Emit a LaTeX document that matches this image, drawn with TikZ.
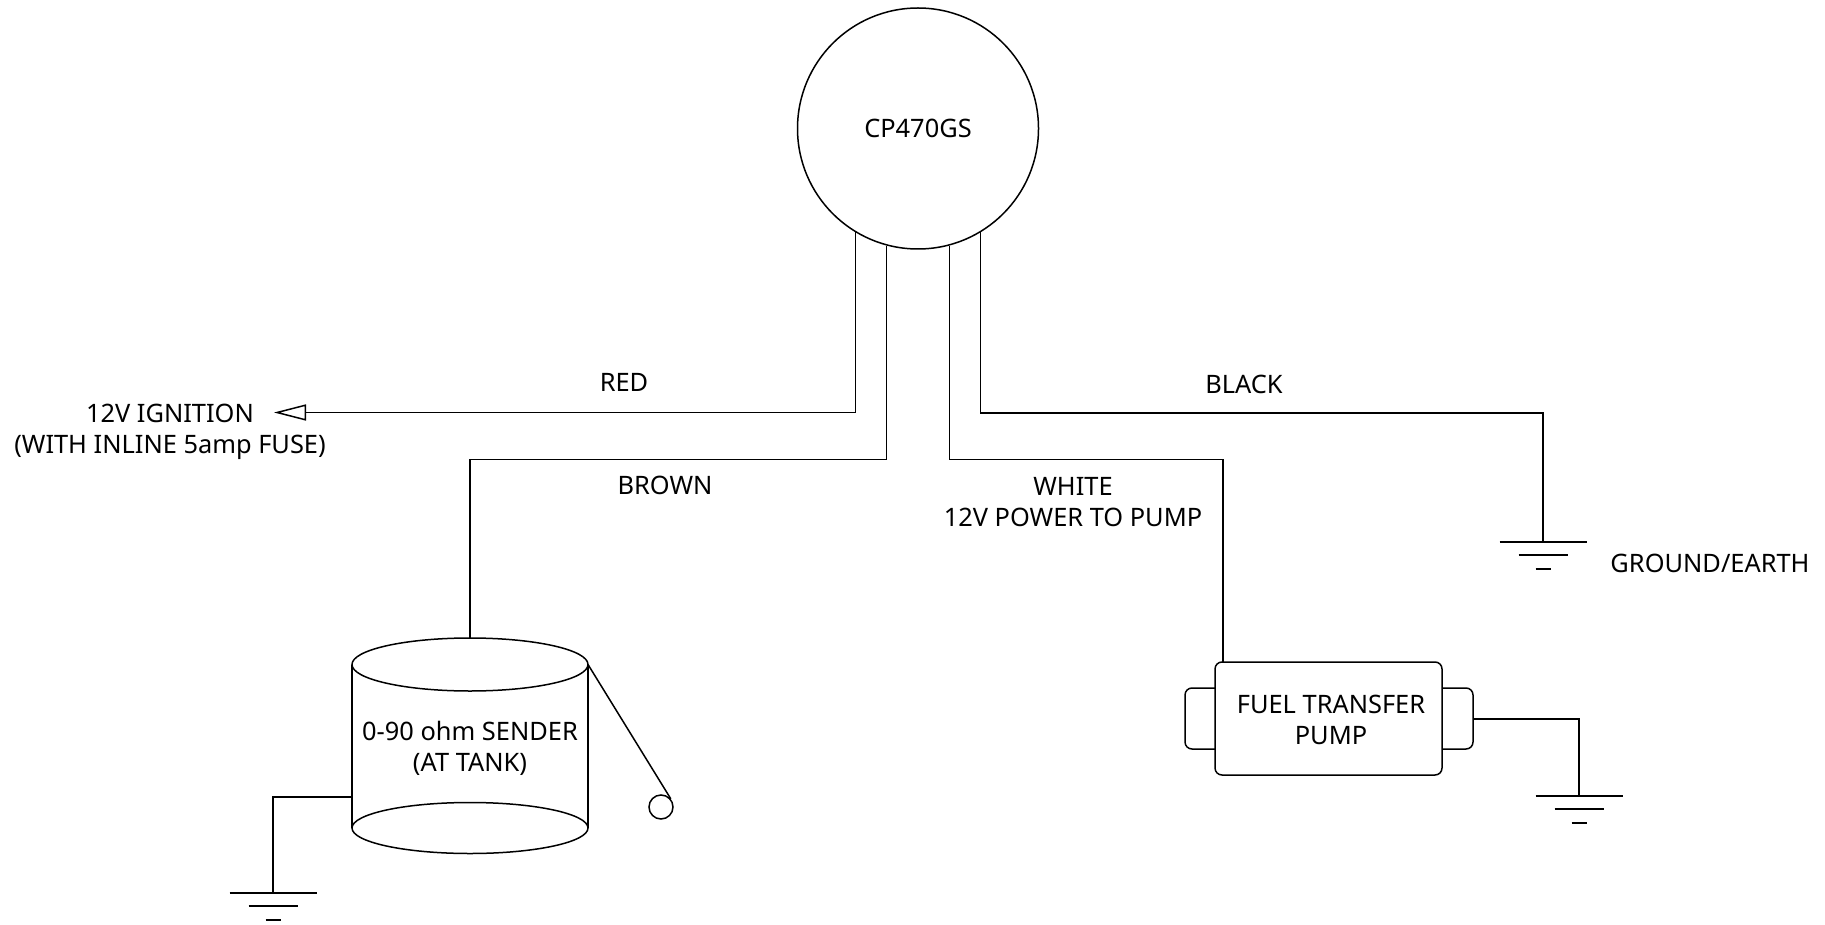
\documentclass[tikz,border=0pt]{standalone}
\usepackage{fontspec}
\setmainfont{Noto Sans}
\usetikzlibrary{positioning}
\usetikzlibrary{calc}
\usetikzlibrary{arrows.meta}
\tikzset{wire/.style={line width=1.5pt},
  lab/.style={font=\fontsize{25.4}{31}\selectfont,align=center,inner sep=0pt}}

\begin{document}
\begin{tikzpicture}[x=1pt,y=-1pt,line join=miter]
\useasboundingbox (0,0) rectangle (1825,925);
\node[draw,wire,circle,minimum size=241pt,inner sep=0pt,lab] (gauge) at (918,128.5) {CP470GS};
% labels
\node[lab] (ignition) at (170,432) {12V IGNITION\\(WITH INLINE 5amp FUSE)};
\node[lab] (red) at (624,382) {RED};
\node[lab] (black) at (1244,384) {BLACK};
\node[lab] (brown) at (665,485) {BROWN};
\node[lab] (white) at (1073,502) {WHITE\\12V POWER TO PUMP};
\node[lab] (earth) at (1710,563) {GROUND/EARTH};
% sender
\draw[wire] (352,664.5) -- (352,828);
\draw[wire] (588,664.5) -- (588,828);
\draw[wire] (470,664.5) ellipse (118 and 26.5);
\draw[wire] (470,828) ellipse (118 and 25.5);
\node[lab] (sender) at (470,748) {0-90 ohm SENDER\\(AT TANK)};
\node[draw,wire,circle,minimum size=24pt,inner sep=0pt] (float) at (661,807) {};
\coordinate (sendertop) at (470,638);
\coordinate (senderleft) at (352,797);
\coordinate (senderright) at (588,664.5);
\draw[wire] (senderright) -- (float.40);
% pump
\draw[wire,rounded corners=7pt] (1215,688) -- (1185,688) -- (1185,749) -- (1215,749);
\draw[wire,rounded corners=7pt] (1442,688) -- (1473,688) -- (1473,749) -- (1442,749);
\node[draw,wire,rounded corners=7pt,minimum width=227pt,minimum height=113pt,inner sep=0pt,lab] (pump) at (1328.5,718.5) {};
\node[lab] (pumptext) at (1331,720) {FUEL TRANSFER\\PUMP};
\coordinate (pumptop) at (1223,662);
\coordinate (pumpright) at (1473,719);
% ends of the wires
\coordinate (ignend) at (274,412.5);
\coordinate (gnda) at (273,893);
\coordinate (gndb) at (1579,796);
\coordinate (gndc) at (1543,542);
% wires
\draw[wire,-{Triangle[open,length=32pt,width=16pt]}] (gauge.-121.5) |- (ignend);
\draw[wire] (gauge.-105.6) |- (sendertop |- 0,459.5) -- (sendertop);
\draw[wire] (gauge.-75.3) |- (pumptop |- 0,459.5) -- (pumptop);
\draw[wire] (gauge.-59) |- (gndc |- 0,413) -- (gndc);
\draw[wire] (senderleft) -| (gnda);
\draw[wire] (pumpright) -| (gndb);
% grounds
\draw[wire] ($(gnda)+(-43.5,0)$) -- ++(87,0);
\draw[wire] ($(gnda)+(-24.5,13)$) -- ++(49,0);
\draw[wire] ($(gnda)+(-7.5,27)$) -- ++(15,0);
\draw[wire] ($(gndb)+(-43.5,0)$) -- ++(87,0);
\draw[wire] ($(gndb)+(-24.5,13)$) -- ++(49,0);
\draw[wire] ($(gndb)+(-7.5,27)$) -- ++(15,0);
\draw[wire] ($(gndc)+(-43.5,0)$) -- ++(87,0);
\draw[wire] ($(gndc)+(-24.5,13)$) -- ++(49,0);
\draw[wire] ($(gndc)+(-7.5,27)$) -- ++(15,0);
\end{tikzpicture}
\end{document}
